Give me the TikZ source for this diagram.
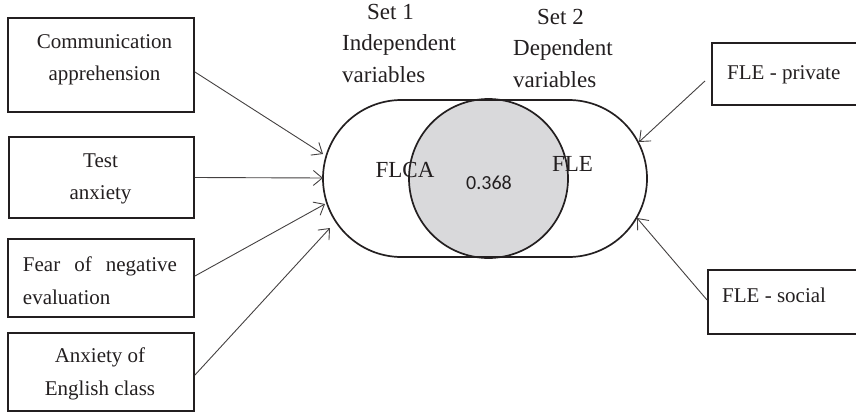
\documentclass[tikz,border=0pt]{standalone}
\usepackage{fontspec}
\setmainfont{Liberation Serif}
\newfontfamily\numfont{Carlito}
\usetikzlibrary{arrows.meta,calc,shapes.misc}
\definecolor{ink}{HTML}{231F20}
\definecolor{fillg}{HTML}{D9D9DB}
\begin{document}
\begin{tikzpicture}[x=1pt,y=-1pt,
  box/.style={draw=ink, line width=1.9pt, inner sep=0pt},
  btxt/.style={text=ink, font=\fontsize{21}{32.5}\selectfont, align=center, inner sep=0pt},
  conn/.style={draw=ink!85, line width=0.9pt, -{Straight Barb[length=9pt,width=15pt]}},
  lab/.style={text=ink, font=\fontsize{23}{31.5}\selectfont, align=left, inner sep=0pt}]
\useasboundingbox (0,0) rectangle (856,412);
\clip (0,0) rectangle (856,412);
% left boxes
\node[box, minimum width=186, minimum height=94] (b1) at (101,65) {};
\node[box, minimum width=185, minimum height=81] (b2) at (101.5,177.5) {};
\node[box, minimum width=186, minimum height=78] (b3) at (101,278) {};
\node[box, minimum width=186, minimum height=78] (b4) at (101,372) {};
\node[btxt] (t1) at (104.5,60) {Communication\\apprehension};
\node[btxt] (t2) at (100.5,179) {Test\\anxiety};
\node[btxt, align=left] (t3) at (100,280.5) {\makebox[154pt][s]{Fear of negative}\\evaluation};
\node[btxt] (t4) at (100,374) {Anxiety of\\English class};
% right boxes
\node[box, minimum width=160, minimum height=62, anchor=north west] (r1) at (711,42) {};
\node[box, minimum width=165, minimum height=64, anchor=north west] (r2) at (707,269) {};
\node[btxt, anchor=west] (s1) at (727,75) {FLE - private};
\node[btxt, anchor=west] (s2) at (722,295) {FLE - social};
% centre
\node[draw=ink, line width=1.7pt, fill=fillg, circle, minimum size=159, inner sep=0pt] (c) at (488.5,178.5) {};
\node[draw=ink, line width=1.7pt, rounded rectangle, minimum width=324, minimum height=157, inner sep=0pt] (set) at (485,178.5) {};
% labels
\node[lab, anchor=north west] (l1) at (342,4) {\hspace{25pt}Set 1\\Independent\\variables};
\node[lab, anchor=north west] (l2) at (513,9) {\hspace{24pt}Set 2\\Dependent\\variables};
\node[text=ink, font=\fontsize{23}{23}\selectfont, inner sep=0pt] (fl) at (405,170) {FLCA};
\node[text=ink, font=\fontsize{23}{23}\selectfont, inner sep=0pt] (fe) at (572.5,164) {FLE};
\node[text=ink, font=\numfont\fontsize{20}{20}\selectfont, inner sep=0pt] (v) at (489,183) {0.368};
% arrow tips
\coordinate (p1) at (323,154);
\coordinate (p2) at (323,178);
\coordinate (p3) at (325,204);
\coordinate (p4) at (330,228);
\coordinate (p5) at (639,142);
\coordinate (p6) at (637,218);
\draw[conn] ([yshift=-7pt]b1.east) -- (p1);
\draw[conn] (b2.east) -- (p2);
\draw[conn] ([yshift=2pt]b3.east) -- (p3);
\draw[conn] ([yshift=-3pt]b4.east) -- (p4);
\draw[conn] ($(r1.west)+(-6,7)$) -- (p5);
\draw[conn] ($(r2.west)+(0,-2)$) -- (p6);
\end{tikzpicture}
\end{document}
